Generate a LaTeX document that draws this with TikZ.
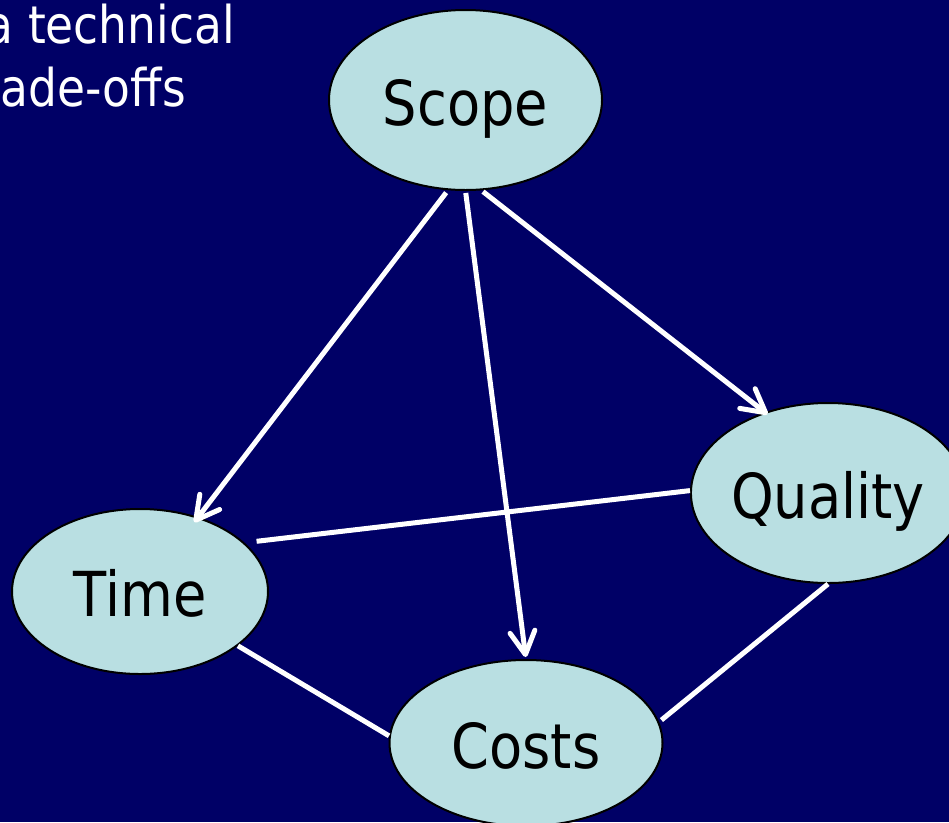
\documentclass[tikz,border=0pt]{standalone}
\usepackage{fontspec}
\setmainfont{DejaVu Sans}[FakeStretch=0.875]
\usetikzlibrary{arrows.meta,shapes.geometric}
\definecolor{navy}{RGB}{0,0,102}
\definecolor{bubble}{RGB}{185,223,226}
\begin{document}
\begin{tikzpicture}[x=1pt,y=-1pt,
  bubblenode/.style={ellipse, draw=black, line width=2pt, fill=bubble,
    inner sep=0pt, text height=50pt, text depth=0pt, text=black,
    font=\fontsize{62}{70}\selectfont},
  link/.style={draw=white, line width=5pt},
  arrowlink/.style={link, -{Straight Barb[length=23pt,width=25pt,round]}},
  heading/.style={text=white, inner sep=0pt, font=\fontsize{52}{62}\selectfont}]
% background
\fill[navy] (0,0) rectangle (949,822);
\useasboundingbox (0,0) rectangle (949,822);
\clip (0,0) rectangle (949,822);

% heading lines
\node[heading, anchor=base east] (headA) at (235,43) {a technical};
\node[heading, anchor=base east] (headB) at (186,106) {ade-offs};

% the four constraints
\node[bubblenode, minimum width=273pt, minimum height=180pt] (scope)   at (465.5,100) {Scope};
\node[bubblenode, minimum width=256pt, minimum height=165pt] (time)    at (140,591.5) {Time};
\node[bubblenode, minimum width=272pt, minimum height=180pt] (quality) at (828,493)   {Quality};
\node[bubblenode, minimum width=273pt, minimum height=166pt] (costs)   at (526,743)   {Costs};

% scope drives the other three
\draw[arrowlink, shorten <=3pt, shorten >=-6.5pt] (scope.259) -- (time.52);
\draw[arrowlink, shorten <=2pt, shorten >=2pt] (scope.270) -- (costs.90);
\draw[arrowlink, shorten <=2pt, shorten >=-3.5pt] (scope.280) -- (quality.128);

% trade-off links
\draw[link, shorten <=12pt] (time.25) -- (quality.179);
\draw[link] (time.331) -- (costs.177);
\draw[link, shorten >=3pt] (quality.270) -- (costs.9);
\end{tikzpicture}
\end{document}
